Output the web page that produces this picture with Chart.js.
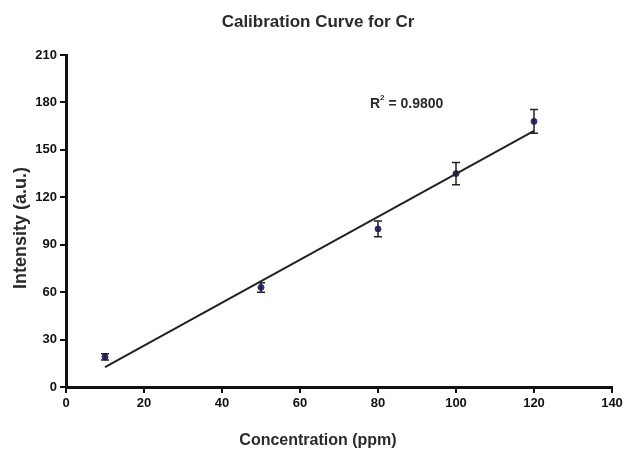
<!DOCTYPE html>
<html>
<head>
<meta charset="utf-8">
<script src="https://cdn.jsdelivr.net/npm/chart.js@4"></script>
<style>
  html, body { margin: 0; padding: 0; background: #fff; }
  #wrap { width: 628px; height: 455px; }
</style>
</head>
<body>
<div id="wrap"><canvas id="myChart" width="628" height="455"></canvas></div>
<script>
// values
var concentrations = [10, 50, 80, 100, 120];
var intensities = [19, 63, 100, 135, 168];
var errors = [2, 3, 5, 7, 7.5];
// regression line end points (as drawn)
var fitX = [10, 120];
var fitY = [12.5, 162];
var rSquared = '0.9800';

var NARROW = '"Liberation Sans Narrow", "Arial Narrow", "Liberation Sans", Arial, sans-serif';
var WIDE = '"Liberation Sans", Arial, sans-serif';

// error bars with caps, drawn through the scales
var errorBars = {
    id: 'errorBars',
    afterDatasetsDraw: function(chart) {
        var ctx = chart.ctx;
        var xs = chart.scales.x, ys = chart.scales.y;
        ctx.save();
        ctx.strokeStyle = '#222';
        ctx.lineWidth = 1.5;
        for (let i = 0; i < concentrations.length; i++) {
            var px = xs.getPixelForValue(concentrations[i]);
            var top = ys.getPixelForValue(intensities[i] + errors[i]);
            var bot = ys.getPixelForValue(intensities[i] - errors[i]);
            ctx.beginPath();
            ctx.moveTo(px, top); ctx.lineTo(px, bot);
            ctx.moveTo(px - 4, top); ctx.lineTo(px + 4, top);
            ctx.moveTo(px - 4, bot); ctx.lineTo(px + 4, bot);
            ctx.stroke();
        }
        ctx.restore();
    }
};

// titles and the R² note
var labels = {
    id: 'labels',
    afterDraw: function(chart) {
        var ctx = chart.ctx;
        ctx.save();
        ctx.fillStyle = '#2a2a2a';
        ctx.textAlign = 'center';
        ctx.textBaseline = 'middle';
        ctx.font = 'bold 17px ' + NARROW;
        ctx.fillText('Calibration Curve for Cr', 318, 22);

        ctx.font = 'bold 16px ' + WIDE;
        ctx.fillText('Concentration (ppm)', 318, 441);

        ctx.save();
        ctx.translate(21, 228);
        ctx.rotate(-Math.PI / 2);
        ctx.font = 'bold 18px ' + WIDE;
        ctx.fillText('Intensity (a.u.)', 0, 0);
        ctx.restore();

        ctx.textAlign = 'left';
        ctx.font = 'bold 14px ' + NARROW;
        var x = 370, y = 104;
        ctx.fillText('R', x, y);
        var w = ctx.measureText('R').width;
        ctx.font = 'bold 8px ' + NARROW;
        ctx.fillText('2', x + w, y - 6);
        var w2 = ctx.measureText('2').width;
        ctx.font = 'bold 14px ' + NARROW;
        ctx.fillText(' = ' + rSquared, x + w + w2, y);
        ctx.restore();
    }
};

var ctx = document.getElementById('myChart').getContext('2d');
var myChart = new Chart(ctx, {
    type: 'scatter',
    data: {
        datasets: [{
            label: 'fit',
            type: 'line',
            data: fitX.map((x, i) => ({ x: x, y: fitY[i] })),
            borderColor: '#222',
            borderWidth: 2,
            pointRadius: 0,
            fill: false
        }, {
            label: 'Cr',
            data: concentrations.map((x, i) => ({ x: x, y: intensities[i] })),
            backgroundColor: '#2b2b86',
            borderColor: '#2b2b86',
            pointRadius: 3
        }]
    },
    options: {
        responsive: false,
        animation: false,
        layout: { padding: { left: 0, right: 16, top: 55, bottom: 0 } },
        plugins: {
            legend: { display: false },
            title: { display: false },
            tooltip: { enabled: false }
        },
        scales: {
            x: {
                type: 'linear',
                min: 0, max: 140,
                ticks: {
                    stepSize: 20,
                    color: '#111',
                    padding: 3,
                    maxRotation: 0,
                    font: { family: NARROW, size: 13, weight: 'bold' }
                },
                grid: { drawOnChartArea: false, color: '#111', lineWidth: 2, tickLength: 6 },
                border: { color: '#111', width: 3 },
                afterFit: function(s) { s.height = 68; s.paddingLeft = 0; s.paddingRight = 0; }
            },
            y: {
                min: 0, max: 210,
                ticks: {
                    stepSize: 30,
                    color: '#111',
                    padding: 3,
                    font: { family: NARROW, size: 13, weight: 'bold' }
                },
                grid: { drawOnChartArea: false, color: '#111', lineWidth: 2, tickLength: 6 },
                border: { color: '#111', width: 3 },
                afterFit: function(s) { s.width = 66; s.paddingTop = 0; s.paddingBottom = 0; }
            }
        }
    },
    plugins: [errorBars, labels]
});
</script>
</body>
</html>
